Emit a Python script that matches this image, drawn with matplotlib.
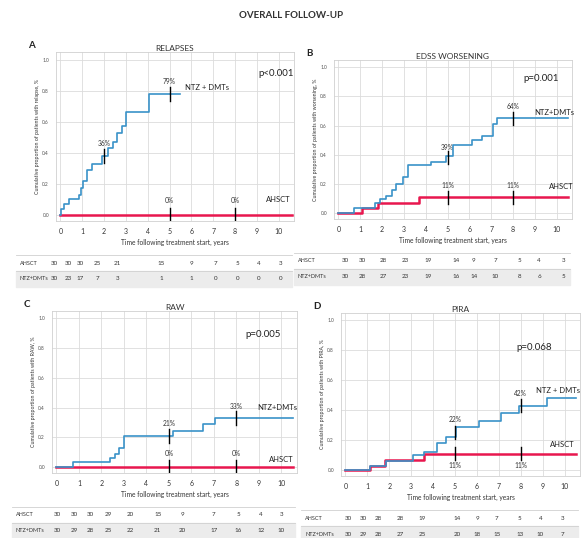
import matplotlib
matplotlib.use('Agg')
import matplotlib.pyplot as plt
import matplotlib.transforms as mtransforms

plt.rcParams['font.family'] = ['Lato', 'DejaVu Sans']

W, H = 582, 538

#----------------------------------------------------------------------|
# Data

years = list(range(11))

# A  Relapses
a_ntz_t = [0, 0.05, 0.15, 0.4, 0.85, 0.95, 1.05, 1.2, 1.45, 1.9, 2.2, 2.4, 2.6, 2.8, 3.0, 4.05, 5.5]
a_ntz_y = [0, 0.04, 0.07, 0.10, 0.13, 0.17, 0.22, 0.29, 0.33, 0.38, 0.43, 0.47, 0.53, 0.57, 0.66, 0.78, 0.78]
a_hsct_t = [0, 10.6]
a_hsct_y = [0, 0]
a_risk_hsct = [30, 30, 30, 25, 21, 15, 9, 7, 5, 4, 3]
a_risk_ntz = [30, 23, 17, 7, 3, 1, 1, 0, 0, 0, 0]

# B  EDSS worsening
b_ntz_t = [0, 0.7, 1.7, 1.9, 2.2, 2.45, 2.65, 2.95, 3.2, 4.25, 4.95, 5.25, 6.1, 6.6, 7.1, 7.25, 10.5]
b_ntz_y = [0, 0.035, 0.07, 0.10, 0.12, 0.16, 0.20, 0.25, 0.33, 0.35, 0.39, 0.47, 0.50, 0.53, 0.61, 0.65, 0.65]
b_hsct_t = [0, 1.1, 1.8, 3.7, 10.5]
b_hsct_y = [0, 0.035, 0.07, 0.11, 0.11]
b_risk_hsct = [30, 30, 28, 23, 19, 14, 9, 7, 5, 4, 3]
b_risk_ntz = [30, 28, 27, 23, 19, 16, 14, 10, 8, 6, 5]

# C  RAW
c_ntz_t = [0, 0.75, 2.4, 2.6, 2.8, 3.0, 5.2, 6.5, 7.05, 10.5]
c_ntz_y = [0, 0.035, 0.06, 0.09, 0.13, 0.21, 0.24, 0.29, 0.33, 0.33]
c_hsct_t = [0, 10.5]
c_hsct_y = [0, 0]
c_risk_hsct = [30, 30, 30, 29, 20, 15, 9, 7, 5, 4, 3]
c_risk_ntz = [30, 29, 28, 25, 22, 21, 20, 17, 16, 12, 10]

# D  PIRA
d_ntz_t = [0, 1.1, 1.85, 3.1, 3.6, 4.2, 4.6, 5.05, 6.1, 7.1, 7.9, 9.2, 10.5]
d_ntz_y = [0, 0.03, 0.06, 0.10, 0.12, 0.18, 0.22, 0.29, 0.33, 0.38, 0.43, 0.48, 0.48]
d_hsct_t = [0, 1.1, 1.8, 3.6, 10.5]
d_hsct_y = [0, 0.03, 0.07, 0.11, 0.11]
d_risk_hsct = [30, 30, 28, 28, 19, 14, 9, 7, 5, 4, 3]
d_risk_ntz = [30, 29, 28, 27, 25, 20, 18, 15, 13, 10, 7]

#----------------------------------------------------------------------|
C_NTZ = '#3a92c8'
C_HSCT = '#e8174e'


def fbox(x0, y0, x1, y1):
    # pixel box (top-left origin) -> figure fraction rect
    return [x0 / W, 1 - y1 / H, (x1 - x0) / W, (y1 - y0) / H]


def panel(fig, box, letter, title, ylab, ntz, hsct, risk, cols, pct, lab):
    ax = fig.add_axes(fbox(*box))
    ax.set_xlim(-0.2, 10.7)
    ax.set_ylim(-0.04, 1.05)
    ax.set_xticks(years)
    ax.set_yticks([0, 0.2, 0.4, 0.6, 0.8, 1.0])
    ax.set_yticklabels(['0.0', '0.2', '0.4', '0.6', '0.8', '1.0'], fontsize=3.5, color='#555555')
    ax.set_xticklabels([str(i) for i in years], fontsize=5, color='#333333')
    ax.tick_params(length=0, pad=5)
    ax.grid(True, color='#dcdcdc', lw=0.6)
    for s in ax.spines.values():
        s.set_color('#d0d0d0')
        s.set_linewidth(0.6)
    ax.set_xlabel('Time following treatment start, years', fontsize=4.8, color='#333333', labelpad=3)
    ax.set_ylabel(ylab, fontsize=3.8, color='#333333', labelpad=2)
    ax.set_title(title, fontsize=6, color='#333333', pad=1)

    ax.step(hsct[0], hsct[1], where='post', color=C_HSCT, lw=1.8, zorder=3)
    ax.step(ntz[0], ntz[1], where='post', color=C_NTZ, lw=1.2, zorder=4)

    # censor-style markers at 5 and 8 years with percentages
    for (x, y, txt, dy) in pct:
        ax.plot([x, x], [y - 0.045, y + 0.045], color='black', lw=1.0, zorder=5)
        ax.text(x, y + dy, txt, fontsize=4.8, ha='center', va='center', color='#333333')
    for (x, y, txt, fs) in lab:
        ax.text(x, y, txt, fontsize=fs, ha='center', va='center', color='#222222')

    # panel letter
    fig.text((box[0] - 28) / W, 1 - (box[1] - 4) / H, letter, fontsize=7, fontweight='bold', color='#222222')

    # number at risk table
    trans = mtransforms.blended_transform_factory(ax.transData, fig.transFigure)
    ty1 = box[3] + 42
    ty2 = box[3] + 58
    xl = box[0] - 40
    xr = box[2] - 2
    band = plt.Rectangle((xl / W, 1 - (ty2 + 8) / H), (xr - xl) / W, 16 / H,
                         transform=fig.transFigure, color='#ececec', zorder=-5)
    fig.add_artist(band)
    for yy in (ty1 - 8, ty2 - 8):
        fig.add_artist(plt.Line2D([xl / W, xr / W], [1 - yy / H] * 2, color='#d0d0d0', lw=0.6, zorder=-4))
    fig.text((xl + 4) / W, 1 - ty1 / H, 'AHSCT', fontsize=4, va='center', color='#333333')
    fig.text((xl + 4) / W, 1 - ty2 / H, 'NTZ+DMTs', fontsize=4, va='center', color='#333333')
    for x, v1, v2 in zip(cols, risk[0], risk[1]):
        ax.text(x, 1 - ty1 / H, str(v1), transform=trans, fontsize=4.5, ha='center', va='center',
                color='#333333', clip_on=False)
        ax.text(x, 1 - ty2 / H, str(v2), transform=trans, fontsize=4.5, ha='center', va='center',
                color='#333333', clip_on=False)
    return ax


fig = plt.figure(figsize=(W / 100, H / 100), dpi=100)

fig.text(0.5, 1 - 16 / H, 'OVERALL FOLLOW-UP', fontsize=7, fontweight='bold', ha='center', va='center', color='#333333')

cols_a = [-0.27, 0.37, 0.91, 1.69, 2.6, 4.6, 6.0, 7.1, 8.1, 9.1, 10.1]
cols_b = [0.32, 1.1, 2.05, 3.06, 4.1, 5.4, 6.2, 7.2, 8.3, 9.2, 10.3]
cols_c = [0.06, 0.8, 1.5, 2.3, 3.3, 4.5, 5.6, 7.0, 8.1, 9.1, 10.0]
cols_d = [0.15, 0.8, 1.5, 2.5, 3.5, 5.1, 6.0, 6.9, 7.95, 8.9, 9.9]

panel(fig, (56, 52, 294, 221), 'A', 'RELAPSES',
      'Cumulative proportion of patients with relapse, %',
      (a_ntz_t, a_ntz_y), (a_hsct_t, a_hsct_y), (a_risk_hsct, a_risk_ntz), cols_a,
      [(2.0, 0.38, '36%', 0.08), (5, 0.78, '79%', 0.08), (5, 0, '0%', 0.09), (8, 0, '0%', 0.09)],
      [(9.9, 0.91, 'p<0.001', 7), (6.7, 0.82, 'NTZ + DMTs', 5.5), (10.0, 0.1, 'AHSCT', 5.5)])

panel(fig, (334, 60, 572, 219), 'B', 'EDSS WORSENING',
      'Cumulative proportion of patients with worsening, %',
      (b_ntz_t, b_ntz_y), (b_hsct_t, b_hsct_y), (b_risk_hsct, b_risk_ntz), cols_b,
      [(5, 0.38, '39%', 0.07), (8, 0.65, '64%', 0.08), (5, 0.11, '11%', 0.08), (8, 0.11, '11%', 0.08)],
      [(9.3, 0.92, 'p=0.001', 7), (9.9, 0.69, 'NTZ+DMTs', 5.5), (10.2, 0.18, 'AHSCT', 5.5)])

panel(fig, (52, 311, 297, 473), 'C', 'RAW',
      'Cumulative proportion of patients with RAW, %',
      (c_ntz_t, c_ntz_y), (c_hsct_t, c_hsct_y), (c_risk_hsct, c_risk_ntz), cols_c,
      [(5, 0.21, '21%', 0.08), (8, 0.33, '33%', 0.08), (5, 0, '0%', 0.09), (8, 0, '0%', 0.09)],
      [(9.2, 0.89, 'p=0.005', 7), (9.8, 0.40, 'NTZ+DMTs', 5.5), (10.0, 0.05, 'AHSCT', 5.5)])

panel(fig, (341, 313, 580, 476), 'D', 'PIRA',
      'Cumulative proportion of patients with PIRA, %',
      (d_ntz_t, d_ntz_y), (d_hsct_t, d_hsct_y), (d_risk_hsct, d_risk_ntz), cols_d,
      [(5, 0.25, '22%', 0.09), (8, 0.43, '42%', 0.08), (5, 0.11, '11%', -0.08), (8, 0.11, '11%', -0.08)],
      [(8.6, 0.82, 'p=0.068', 7), (9.7, 0.53, 'NTZ + DMTs', 5.5), (9.9, 0.17, 'AHSCT', 5.5)])

fig.savefig('out.png', dpi=100)
